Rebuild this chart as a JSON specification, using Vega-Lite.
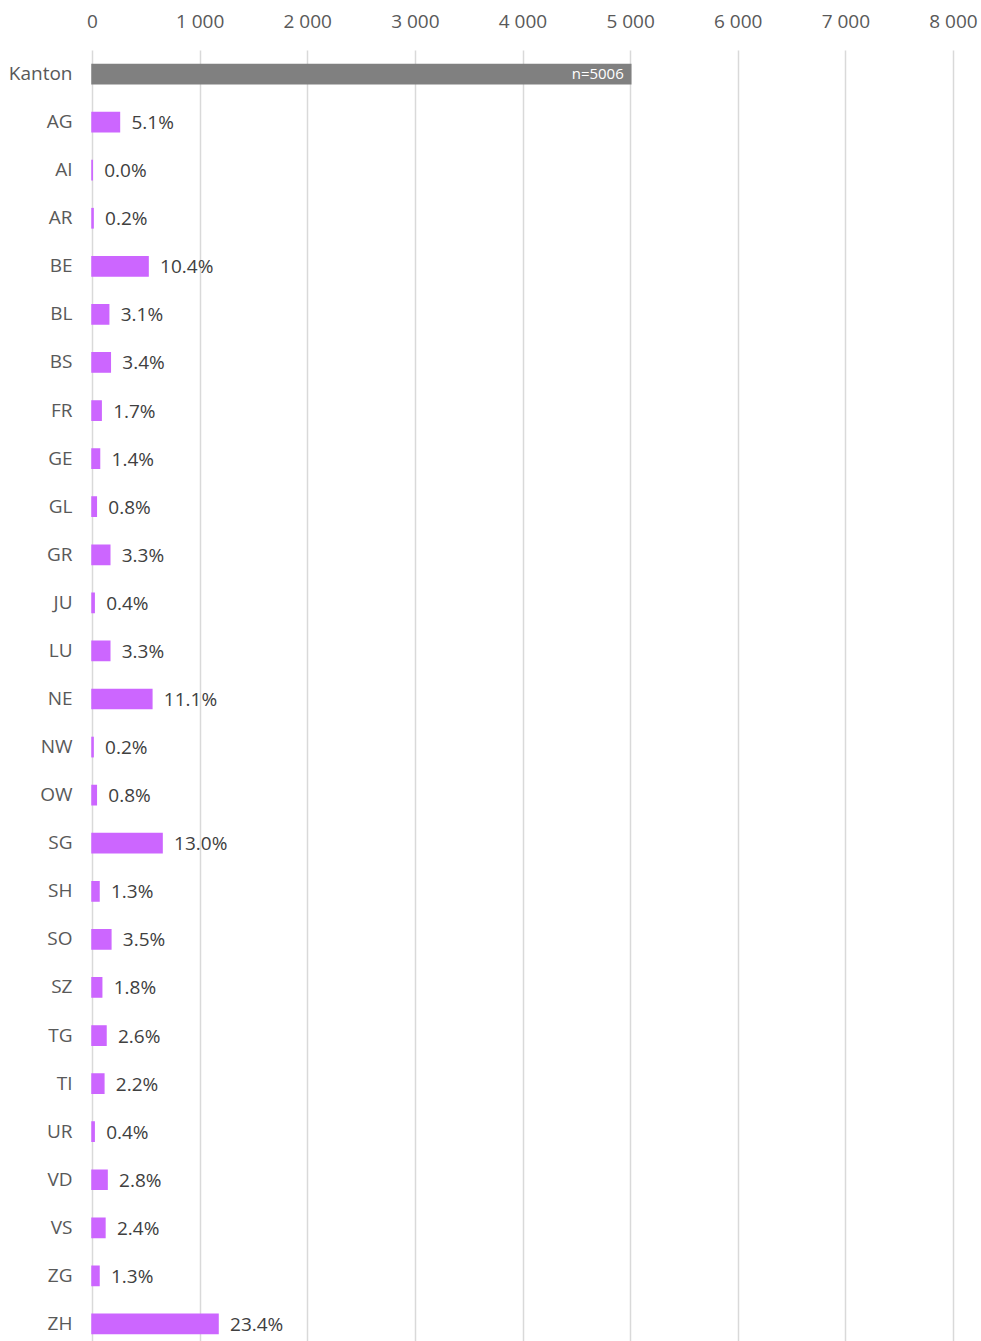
{
  "$schema": "https://vega.github.io/schema/vega-lite/v6.json",
  "width": 861,
  "height": 1298,
  "autosize": {"type": "none"},
  "padding": {"left": 92, "top": 50, "right": 28, "bottom": 0},
  "background": "white",
  "data": {
    "values": [
      {"canton": "Kanton", "count": 5006, "label": "n=5006"},
      {"canton": "AG", "count": 255, "label": "5.1%"},
      {"canton": "AI", "count": 2, "label": "0.0%"},
      {"canton": "AR", "count": 10, "label": "0.2%"},
      {"canton": "BE", "count": 521, "label": "10.4%"},
      {"canton": "BL", "count": 155, "label": "3.1%"},
      {"canton": "BS", "count": 170, "label": "3.4%"},
      {"canton": "FR", "count": 85, "label": "1.7%"},
      {"canton": "GE", "count": 70, "label": "1.4%"},
      {"canton": "GL", "count": 40, "label": "0.8%"},
      {"canton": "GR", "count": 165, "label": "3.3%"},
      {"canton": "JU", "count": 20, "label": "0.4%"},
      {"canton": "LU", "count": 165, "label": "3.3%"},
      {"canton": "NE", "count": 556, "label": "11.1%"},
      {"canton": "NW", "count": 10, "label": "0.2%"},
      {"canton": "OW", "count": 40, "label": "0.8%"},
      {"canton": "SG", "count": 651, "label": "13.0%"},
      {"canton": "SH", "count": 65, "label": "1.3%"},
      {"canton": "SO", "count": 175, "label": "3.5%"},
      {"canton": "SZ", "count": 90, "label": "1.8%"},
      {"canton": "TG", "count": 130, "label": "2.6%"},
      {"canton": "TI", "count": 110, "label": "2.2%"},
      {"canton": "UR", "count": 20, "label": "0.4%"},
      {"canton": "VD", "count": 140, "label": "2.8%"},
      {"canton": "VS", "count": 120, "label": "2.4%"},
      {"canton": "ZG", "count": 65, "label": "1.3%"},
      {"canton": "ZH", "count": 1171, "label": "23.4%"}
    ]
  },
  "encoding": {
    "y": {
      "field": "canton",
      "type": "nominal",
      "sort": null,
      "title": null,
      "scale": {"paddingInner": 0.6, "paddingOuter": 0.3},
      "axis": {
        "domain": false,
        "ticks": false,
        "grid": false,
        "labelPadding": 20,
        "labelFontSize": 19,
        "labelColor": "#595959",
        "labelFont": "Open Sans"
      }
    },
    "x": {
      "field": "count",
      "type": "quantitative",
      "title": null,
      "scale": {"domain": [0, 8000], "nice": false},
      "axis": {
        "orient": "top",
        "values": [0, 1000, 2000, 3000, 4000, 5000, 6000, 7000, 8000],
        "labelExpr": "replace(format(datum.value, ','), regexp(',', 'g'), ' ')",
        "labelFlush": false,
        "labelBound": false,
        "domain": false,
        "ticks": false,
        "grid": true,
        "gridColor": "#D9D9D9",
        "gridWidth": 1.5,
        "labelPadding": 19,
        "labelFontSize": 19,
        "labelColor": "#595959",
        "labelFont": "Open Sans"
      }
    }
  },
  "layer": [
    {
      "mark": {"type": "bar", "strokeWidth": 1.5},
      "encoding": {
        "color": {
          "condition": {"test": "datum.canton === 'Kanton'", "value": "#808080"},
          "value": "#CC66FF"
        },
        "stroke": {
          "condition": {"test": "datum.canton === 'Kanton'", "value": "#808080"},
          "value": "#CC66FF"
        }
      }
    },
    {
      "transform": [{"filter": "datum.canton !== 'Kanton'"}],
      "mark": {
        "type": "text",
        "align": "left",
        "baseline": "middle",
        "dx": 12,
        "dy": 1,
        "fontSize": 19,
        "font": "Open Sans",
        "color": "#404040"
      },
      "encoding": {"text": {"field": "label"}}
    },
    {
      "transform": [{"filter": "datum.canton === 'Kanton'"}],
      "mark": {
        "type": "text",
        "align": "right",
        "baseline": "middle",
        "dx": -7,
        "fontSize": 15,
        "font": "Open Sans",
        "color": "white"
      },
      "encoding": {"text": {"field": "label"}}
    }
  ],
  "config": {
    "view": {"stroke": null}
  }
}
